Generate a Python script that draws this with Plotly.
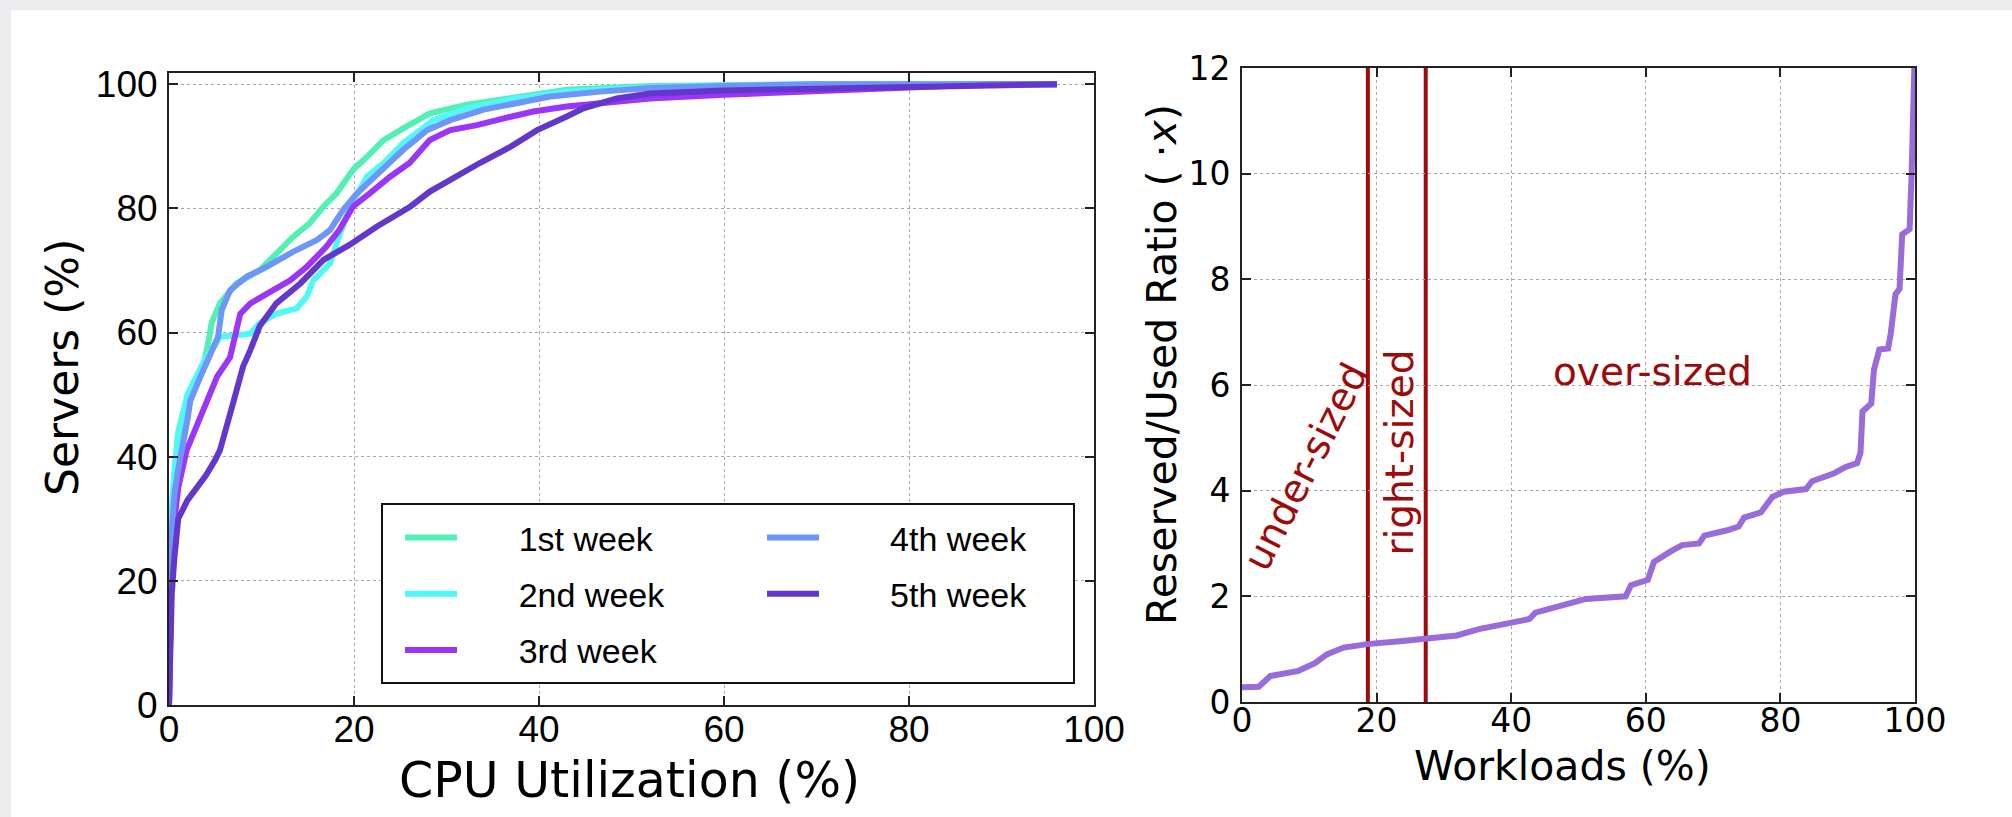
import plotly.graph_objects as go

# ---------------- data: left panel (CDF of CPU utilization) ----------------
week_names = ["1st week", "2nd week", "3rd week", "4th week", "5th week"]
week_colors = ["#52F0B4", "#52F8F8", "#9B35F8", "#6E96F8", "#6437CC"]

week1_x = [0, 0.1, 0.3, 0.6, 1.0, 1.4, 2.6, 3.7, 4.3, 4.6, 5.5, 7.3, 9.8, 11.6, 13.4, 15.2, 16.7,
           18.1, 19.9, 21.4, 23.2, 25.7, 28.2, 32.2, 37.6, 43, 52, 60, 70, 80, 96]
week1_y = [0, 15, 30, 37, 42, 46.4, 51.8, 54.5, 58.8, 61.5, 64.7, 67.9, 70, 72.7, 75.4, 77.6, 80.3,
           82.4, 86.2, 88.3, 91, 93.2, 95.3, 96.7, 98, 99.1, 99.7, 99.9, 100, 100, 100]

week2_x = [0, 0.1, 0.3, 0.6, 1.0, 2.0, 3.0, 4.0, 5.0, 5.5, 7, 8.8, 9.8, 11.6, 13.8, 14.9, 15.6, 17.4,
           18.5, 19.6, 21.4, 23.2, 25.3, 28.6, 32.2, 37.6, 43, 50, 60, 75, 96]
week2_y = [0, 18, 32, 38, 44, 50, 53, 56, 58, 59.3, 59.5, 59.8, 61.5, 63, 63.9, 65.8, 68.4, 71.1,
           76, 80.3, 85.1, 87.3, 90.5, 94.2, 96.1, 97.7, 98.8, 99.4, 99.8, 100, 100]

week3_x = [0, 0.1, 0.3, 0.6, 1.0, 1.9, 3.7, 5.2, 6.6, 7.1, 7.7, 8.8, 10.6, 13.1, 14.9, 17, 18.4, 19.9,
           21.7, 23.9, 26, 27.5, 28.2, 30.4, 33.3, 36.2, 39.4, 43, 48.4, 52, 60, 70, 80, 89, 96]
week3_y = [0, 12, 24, 30, 35, 41, 47.5, 52.9, 56, 58.8, 63, 64.7, 66.3, 68.4, 70.6, 73.8, 76.5, 80.3,
           82.4, 85.1, 87.3, 89.9, 91, 92.6, 93.4, 94.5, 95.6, 96.4, 97.2, 97.7, 98.3, 98.9, 99.4, 100, 100]

week4_x = [0, 0.1, 0.3, 0.6, 1.0, 2.0, 2.3, 3.4, 4.4, 5.3, 5.7, 6.6, 8.4, 10.6, 13.4, 16, 17.4, 18.8,
           20.3, 22.5, 25.3, 27.9, 30.4, 34, 37.6, 41.2, 46.6, 52, 60, 70, 96]
week4_y = [0, 15, 28, 34, 38, 46, 49, 52.9, 56, 59.3, 63.6, 66.8, 69, 70.6, 73, 74.9, 76.5, 79.7,
           82.4, 85.6, 89.4, 92.6, 94.2, 95.9, 96.9, 98, 98.8, 99.4, 99.7, 100, 100]

week5_x = [0, 0.1, 0.3, 0.6, 1.0, 2.0, 3.0, 4.0, 5.0, 5.5, 7, 8, 8.8, 9.8, 11.6, 14.2, 16.7, 19.5,
           22.4, 26.1, 28.2, 30.4, 33.6, 36.9, 39.8, 43, 44.8, 48.4, 52, 60, 70, 80, 90, 96]
week5_y = [0, 10, 18, 24, 30, 33, 35, 37, 39.5, 41, 49, 54.5, 57.2, 61, 64.7, 67.9, 71.7, 74.1,
           77, 80.3, 82.7, 84.6, 87.3, 89.9, 92.6, 94.8, 96.1, 97.7, 98.5, 99, 99.3, 99.6, 99.8, 100]

# ---------------- data: right panel (reserved / used ratio) ----------------
ratio_x = [0, 0.4, 2.5, 4.2, 8.4, 10.9, 12.6, 15.1, 18.9, 23.5, 27.7, 31.9, 35.2, 40.2, 42.7, 43.6,
           48.6, 51.1, 57, 57.8, 60.3, 61.2, 63.7, 65.4, 67.9, 68.7, 72.1, 73.8, 74.6, 77.1, 78.8,
           80.5, 83.8, 84.7, 88, 89.7, 91.4, 91.9, 92.2, 93.5, 93.9, 94.7, 96, 96.4, 97.1, 97.7,
           98.1, 99.2, 99.5, 99.9]
ratio_y = [0.28, 0.28, 0.29, 0.49, 0.59, 0.74, 0.9, 1.03, 1.1, 1.15, 1.2, 1.26, 1.38, 1.52, 1.57, 1.69,
           1.87, 1.95, 2.0, 2.21, 2.31, 2.65, 2.85, 2.97, 3.0, 3.15, 3.25, 3.32, 3.49, 3.59, 3.88,
           3.98, 4.03, 4.18, 4.33, 4.45, 4.52, 4.72, 5.5, 5.65, 6.29, 6.67, 6.69, 6.98, 7.72, 7.82,
           8.85, 8.95, 10.0, 12.0]
ratio_color = "#9A6BDB"

size_bounds = [18.7, 27.3]          # under-/right-sized thresholds (% of workloads)
region_labels = ["under-sized", "right-sized", "over-sized"]
region_x = [9.5, 23.4, 61.0]
region_y = [4.45, 4.73, 6.25]
region_angle = [-63, -90, 0]
dark_red = "#9E0A0A"

left_ticks = [0, 20, 40, 60, 80, 100]
right_xticks = [0, 20, 40, 60, 80, 100]
right_yticks = [0, 2, 4, 6, 8, 10, 12]

W, H = 2012, 817


def px_x(p):
    return p / W


def px_y(p):
    return (H - p) / H


fig = go.Figure()

weeks_x = [week1_x, week2_x, week3_x, week4_x, week5_x]
weeks_y = [week1_y, week2_y, week3_y, week4_y, week5_y]
for i, (name, col, xs, ys) in enumerate(zip(week_names, week_colors, weeks_x, weeks_y)):
    pad = "\u00a0" * (6 if i < 3 else 7)
    fig.add_trace(go.Scatter(
        x=xs, y=ys, mode="lines", name=pad + name,
        line=dict(color=col, width=6),
        xaxis="x", yaxis="y",
        legend="legend" if i < 3 else "legend2",
        legendgroup="g%d" % i,
    ))

fig.add_trace(go.Scatter(
    x=ratio_x, y=ratio_y, mode="lines", line=dict(color=ratio_color, width=6, shape="linear"),
    xaxis="x2", yaxis="y2", showlegend=False,
))

for b in size_bounds:
    fig.add_shape(type="line", xref="x2", yref="y2", x0=b, x1=b, y0=0, y1=12,
                  line=dict(color=dark_red, width=4), layer="below")

for lab, lx, ly, ang in zip(region_labels, region_x, region_y, region_angle):
    fig.add_annotation(x=lx, y=ly, xref="x2", yref="y2", text=lab, showarrow=False,
                       textangle=ang, font=dict(family="DejaVu Sans", size=39, color=dark_red))

# axis titles (placed as in the reference)
fig.add_annotation(x=px_x(629), y=px_y(780), xref="paper", yref="paper", showarrow=False,
                   text="CPU Utilization (%)", font=dict(family="DejaVu Sans", size=49, color="black"),
                   xanchor="center", yanchor="middle", borderpad=0)
fig.add_annotation(x=px_x(62), y=px_y(368), xref="paper", yref="paper", showarrow=False,
                   text="Servers (%)", textangle=-90, font=dict(family="DejaVu Sans", size=44, color="black"),
                   xanchor="center", yanchor="middle", borderpad=0)
fig.add_annotation(x=px_x(1562), y=px_y(766), xref="paper", yref="paper", showarrow=False,
                   text="Workloads (%)", font=dict(family="DejaVu Sans", size=41, color="black"),
                   xanchor="center", yanchor="middle", borderpad=0)
fig.add_annotation(x=px_x(1162), y=px_y(365), xref="paper", yref="paper", showarrow=False,
                   text="Reserved/Used Ratio ( ·<i>x</i>)", textangle=-90,
                   font=dict(family="DejaVu Sans", size=41, color="black"),
                   xanchor="center", yanchor="middle", borderpad=0)

# white panel over grey page
fig.add_shape(type="rect", xref="paper", yref="paper", x0=px_x(11), x1=1, y0=0, y1=px_y(10),
              fillcolor="white", line=dict(width=0), layer="below")
# legend frame
fig.add_shape(type="rect", xref="paper", yref="paper", x0=px_x(382), x1=px_x(1074),
              y0=px_y(683), y1=px_y(504), fillcolor="white",
              line=dict(color="#111111", width=2), layer="above")

axis_common = dict(showline=True, linecolor="#222222", linewidth=2, mirror="allticks",
                   ticks="inside", ticklen=9, tickwidth=1.5, tickcolor="#222222",
                   showgrid=True, gridcolor="#A8A8A8", griddash="dot", gridwidth=1.2,
                   zeroline=False, automargin=False)

left_tick_font = dict(family="Liberation Sans", size=37, color="black")
right_tick_font = dict(family="DejaVu Sans", size=33, color="black")

fig.update_layout(
    width=W, height=H,
    margin=dict(l=0, r=0, t=0, b=0, pad=0, autoexpand=False),
    paper_bgcolor="#ECEDEF",
    plot_bgcolor="white",
    xaxis=dict(domain=[px_x(169), px_x(1094)], range=[0, 100], tickvals=left_ticks,
               tickfont=left_tick_font, ticklabelstandoff=-9, anchor="y", **axis_common),
    yaxis=dict(domain=[px_y(705), px_y(73)], range=[0, 101.8], tickvals=left_ticks,
               tickfont=left_tick_font, ticklabelstandoff=2, anchor="x", **axis_common),
    xaxis2=dict(domain=[px_x(1242), px_x(1915)], range=[0, 100], tickvals=right_xticks,
                tickfont=right_tick_font, ticklabelstandoff=-12, anchor="y2", **axis_common),
    yaxis2=dict(domain=[px_y(702), px_y(68)], range=[0, 12], tickvals=right_yticks,
                tickfont=right_tick_font, ticklabelstandoff=3, anchor="x2", **axis_common),
    legend=dict(x=px_x(400), y=px_y(509), xanchor="left", yanchor="top",
                bgcolor="rgba(0,0,0,0)", borderwidth=0, itemwidth=52,
                tracegroupgap=9, font=dict(family="Liberation Sans", size=34, color="black")),
    legend2=dict(x=px_x(762), y=px_y(509), xanchor="left", yanchor="top",
                 bgcolor="rgba(0,0,0,0)", borderwidth=0, itemwidth=52,
                 tracegroupgap=9, font=dict(family="Liberation Sans", size=34, color="black")),
)

fig.write_html("out.html", config={"displayModeBar": False},
               post_script="document.body.style.margin='0px';document.body.style.overflow='hidden';")
